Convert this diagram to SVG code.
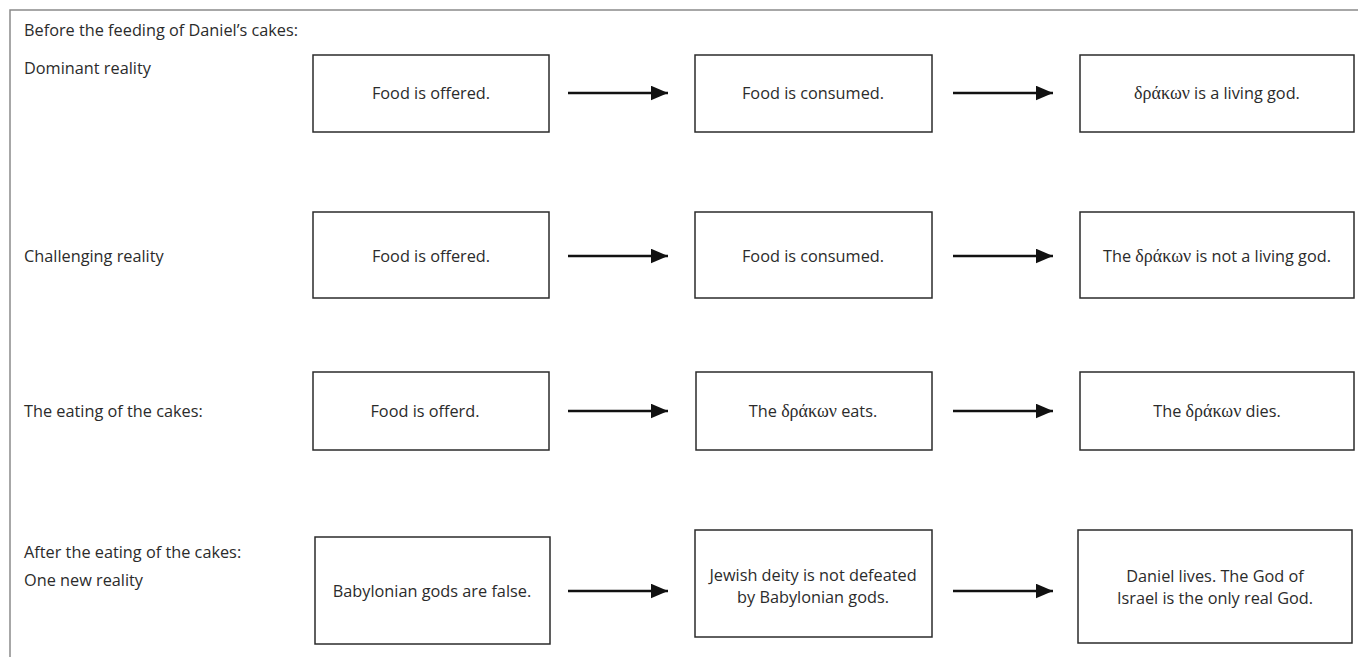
<svg xmlns="http://www.w3.org/2000/svg" width="1358" height="657" viewBox="0 0 1358 657">
<defs>
<style>
.t{font-family:"Open Sans","Noto Sans","Liberation Sans",sans-serif;font-size:16.3px;fill:#2b2b2b}
.c{text-anchor:middle}
.g{font-family:"Liberation Serif","DejaVu Serif",serif;font-size:18px}
.box{fill:#fff;stroke:#2b2b2b;stroke-width:1.5}
.ar{stroke:#111;stroke-width:2.5;fill:none;marker-end:url(#ah)}
</style>
<marker id="ah" markerWidth="8" markerHeight="7" refX="7" refY="3" orient="auto" markerUnits="strokeWidth">
<path d="M0,0 L7,3 L0,6 z" fill="#111"/>
</marker>
</defs>
<rect width="1358" height="657" fill="#fff"/>
<path d="M10,657 V10 H1358" fill="none" stroke="#8a8a8a" stroke-width="1.5"/>
<g id="labels">
<text class="t" x="24" y="36">Before the feeding of Daniel’s cakes:</text>
<text class="t" x="24" y="74">Dominant reality</text>
<text class="t" x="24" y="262">Challenging reality</text>
<text class="t" x="24" y="417">The eating of the cakes:</text>
<text class="t" x="24" y="558">After the eating of the cakes:</text>
<text class="t" x="24" y="586">One new reality</text>
</g>
<g id="r1n1"><rect class="box" x="313" y="55" width="236" height="77"/><text class="t c" x="431" y="99">Food is offered.</text></g>
<g id="r1n2"><rect class="box" x="695" y="55" width="237" height="77"/><text class="t c" x="813" y="99">Food is consumed.</text></g>
<g id="r1n3"><rect class="box" x="1080" y="55" width="274" height="77"/><text class="t c" x="1217" y="99"><tspan class="g">δράκων</tspan> is a living god.</text></g>
<g id="r2n1"><rect class="box" x="313" y="212" width="236" height="86"/><text class="t c" x="431" y="262">Food is offered.</text></g>
<g id="r2n2"><rect class="box" x="695" y="212" width="237" height="86"/><text class="t c" x="813" y="262">Food is consumed.</text></g>
<g id="r2n3"><rect class="box" x="1080" y="212" width="274" height="86"/><text class="t c" x="1217" y="262">The <tspan class="g">δράκων</tspan> is not a living god.</text></g>
<g id="r3n1"><rect class="box" x="313" y="372" width="236" height="78"/><text class="t c" x="425" y="417">Food is offerd.</text></g>
<g id="r3n2"><rect class="box" x="696" y="372" width="236" height="78"/><text class="t c" x="813" y="417">The <tspan class="g">δράκων</tspan> eats.</text></g>
<g id="r3n3"><rect class="box" x="1080" y="372" width="274" height="78"/><text class="t c" x="1217" y="417">The <tspan class="g">δράκων</tspan> dies.</text></g>
<g id="r4n1"><rect class="box" x="315" y="537" width="235" height="107"/><text class="t c" x="432" y="597">Babylonian gods are false.</text></g>
<g id="r4n2"><rect class="box" x="695" y="530" width="237" height="107"/><text class="t c" x="813" y="581">Jewish deity is not defeated</text><text class="t c" x="813" y="603">by Babylonian gods.</text></g>
<g id="r4n3"><rect class="box" x="1078" y="530" width="274" height="113"/><text class="t c" x="1215" y="582">Daniel lives. The God of</text><text class="t c" x="1215" y="604">Israel is the only real God.</text></g>
<g id="connectors">
<line class="ar" x1="568" y1="93" x2="668" y2="93"/>
<line class="ar" x1="953" y1="93" x2="1053" y2="93"/>
<line class="ar" x1="568" y1="256" x2="668" y2="256"/>
<line class="ar" x1="953" y1="256" x2="1053" y2="256"/>
<line class="ar" x1="568" y1="411" x2="668" y2="411"/>
<line class="ar" x1="953" y1="411" x2="1053" y2="411"/>
<line class="ar" x1="568" y1="591" x2="668" y2="591"/>
<line class="ar" x1="953" y1="591" x2="1053" y2="591"/>
</g>
</svg>
